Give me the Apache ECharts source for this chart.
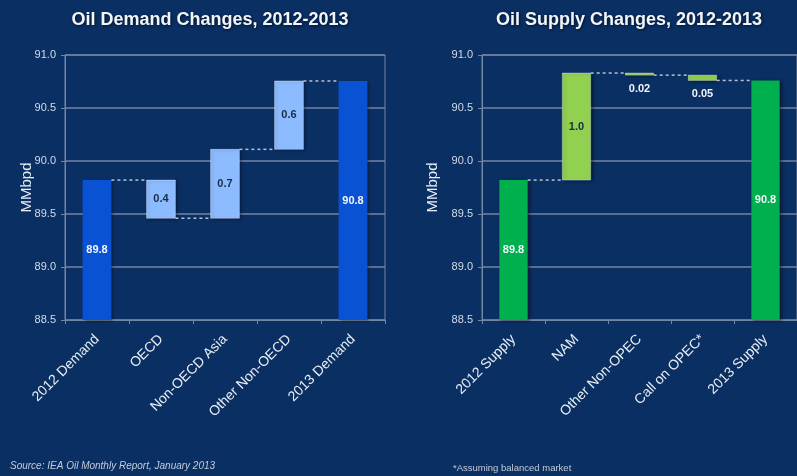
<!DOCTYPE html>
<html>
<head>
<meta charset="utf-8">
<title>Oil Demand and Supply Changes, 2012-2013</title>
<script src="https://cdn.jsdelivr.net/npm/echarts@6/dist/echarts.min.js"></script>
<style>
  html, body { margin: 0; padding: 0; background: #0a2f63; }
  #chart { width: 797px; height: 476px; }
</style>
</head>
<body>
<div id="chart"></div>
<script>
// data (MMbpd)
var demandCategories = ['2012 Demand', 'OECD', 'Non-OECD Asia', 'Other Non-OECD', '2013 Demand'];
var demandStart = 89.82;
var demandChanges = [-0.36, 0.65, 0.645];
var demandEnd = 90.755;
var demandLabels = ['89.8', '0.4', '0.7', '0.6', '90.8'];

var supplyCategories = ['2012 Supply', 'NAM', 'Other Non-OPEC', 'Call on OPEC*', '2013 Supply'];
var supplyStart = 89.82;
var supplyChanges = [1.01, -0.02, -0.05];
var supplyEnd = 90.76;
var supplyLabels = ['89.8', '1.0', '0.02', '0.05', '90.8'];

var yMin = 88.5, yMax = 91.0, yStep = 0.5;

// turn start / changes / end into [index, low, high, connector level, isTotal]
function waterfall(start, changes, end) {
  var rows = [[0, yMin, start, start, 1]];
  var cum = start;
  changes.forEach(function (c, i) {
    var next = cum + c;
    rows.push([i + 1, Math.min(cum, next), Math.max(cum, next), next, 0]);
    cum = next;
  });
  rows.push([changes.length + 1, yMin, end, end, 1]);
  return rows;
}

var myChart = echarts.init(document.getElementById('chart'));

function makeRender(total, change, labels, count) {
  return function (params, api) {
    var idx = api.value(0);
    var top = api.coord([idx, api.value(2)]);
    var bot = api.coord([idx, api.value(1)]);
    var w = api.size([1, 0])[0] * 0.45;
    var h = Math.max(bot[1] - top[1], 2);
    var isTotal = api.value(4) === 1;
    var children = [{
      type: 'rect',
      shape: { x: top[0] - w / 2, y: top[1], width: w, height: h },
      style: {
        fill: isTotal ? total : change,
        stroke: isTotal ? null : 'rgba(255,255,255,0.35)',
        lineWidth: 1,
        shadowBlur: 3, shadowOffsetX: 2, shadowOffsetY: 1,
        shadowColor: 'rgba(0,0,0,0.45)'
      }
    }];
    if (idx < count - 1) {
      var lvl = api.coord([idx, api.value(3)]);
      var nxt = api.coord([idx + 1, api.value(3)]);
      children.push({
        type: 'line',
        shape: { x1: top[0] + w / 2, y1: lvl[1], x2: nxt[0] - w / 2, y2: lvl[1] },
        style: { stroke: '#b7c0d0', lineWidth: 1.5, lineDash: [3, 3] }
      });
    }
    var small = h < 12;
    children.push({
      type: 'text',
      style: {
        x: top[0], y: small ? bot[1] + 14 : top[1] + h / 2,
        text: labels[idx],
        align: 'center', verticalAlign: 'middle',
        font: 'bold 11px "Liberation Sans", Arial, sans-serif',
        fill: (isTotal || small) ? '#f2f5fa' : '#1b2a44'
      }
    });
    return { type: 'group', children: children };
  };
}

var axisText = '#d4dbe7';
var gridLine = '#7386a3';

function xAxis(grid, cats) {
  return {
    type: 'category', gridIndex: grid, data: cats,
    axisLine: { lineStyle: { color: gridLine } },
    axisTick: { show: true, length: 4, lineStyle: { color: gridLine } },
    axisLabel: { rotate: 45, margin: 17, color: '#e8edf5', fontSize: 14, fontFamily: 'Liberation Sans, Arial, sans-serif' }
  };
}
function yAxis(grid, gap) {
  return {
    type: 'value', gridIndex: grid, min: yMin, max: yMax, interval: yStep,
    name: 'MMbpd', nameLocation: 'middle', nameGap: gap, nameRotate: 90, nameMoveOverlap: false,
    nameTextStyle: { color: '#e8edf5', fontSize: 15, fontFamily: 'Liberation Sans, Arial, sans-serif' },
    axisLine: { show: true, lineStyle: { color: gridLine } },
    axisTick: { show: true, length: 4, inside: false, lineStyle: { color: gridLine } },
    axisLabel: { color: axisText, fontSize: 11, margin: 9, formatter: function (v) { return v.toFixed(1); },
      fontFamily: 'Liberation Sans, Arial, sans-serif' },
    splitLine: { lineStyle: { color: gridLine, width: 1.5 } }
  };
}

var option = {
  backgroundColor: '#0a2f63',
  animation: false,
  title: [
    { text: 'Oil Demand Changes, 2012-2013', left: 205, top: 6, textAlign: 'center',
      textStyle: { color: '#f2f5fa', fontSize: 18, fontWeight: 'bold', fontFamily: 'Liberation Sans, Arial, sans-serif',
        textShadowColor: 'rgba(0,0,0,0.6)', textShadowBlur: 3, textShadowOffsetX: 1, textShadowOffsetY: 1 } },
    { text: 'Oil Supply Changes, 2012-2013', left: 624, top: 6, textAlign: 'center',
      textStyle: { color: '#f2f5fa', fontSize: 18, fontWeight: 'bold', fontFamily: 'Liberation Sans, Arial, sans-serif',
        textShadowColor: 'rgba(0,0,0,0.6)', textShadowBlur: 3, textShadowOffsetX: 1, textShadowOffsetY: 1 } }
  ],
  grid: [
    { left: 65, right: 412, top: 55, bottom: 156, show: true, borderColor: gridLine, borderWidth: 1 },
    { left: 482, right: -5, top: 55, bottom: 156, show: true, borderColor: gridLine, borderWidth: 1 }
  ],
  xAxis: [xAxis(0, demandCategories), xAxis(1, supplyCategories)],
  yAxis: [yAxis(0, 31), yAxis(1, 42)],
  series: [
    { type: 'custom', name: 'Demand', xAxisIndex: 0, yAxisIndex: 0,
      data: waterfall(demandStart, demandChanges, demandEnd),
      renderItem: makeRender('#0a52d4', '#8cbcff', demandLabels, demandCategories.length) },
    { type: 'custom', name: 'Supply', xAxisIndex: 1, yAxisIndex: 1,
      data: waterfall(supplyStart, supplyChanges, supplyEnd),
      renderItem: makeRender('#00b04f', '#92d050', supplyLabels, supplyCategories.length) }
  ],
  graphic: [
    { type: 'text', left: 10, top: 461,
      style: { text: 'Source: IEA Oil Monthly Report, January 2013', fill: '#c3cbda',
        font: 'italic 10px "Liberation Sans", Arial, sans-serif' } },
    { type: 'text', left: 453, top: 463,
      style: { text: '*Assuming balanced market', fill: '#c3cbda',
        font: '9.5px "Liberation Sans", Arial, sans-serif' } }
  ]
};

myChart.setOption(option);
</script>
</body>
</html>
